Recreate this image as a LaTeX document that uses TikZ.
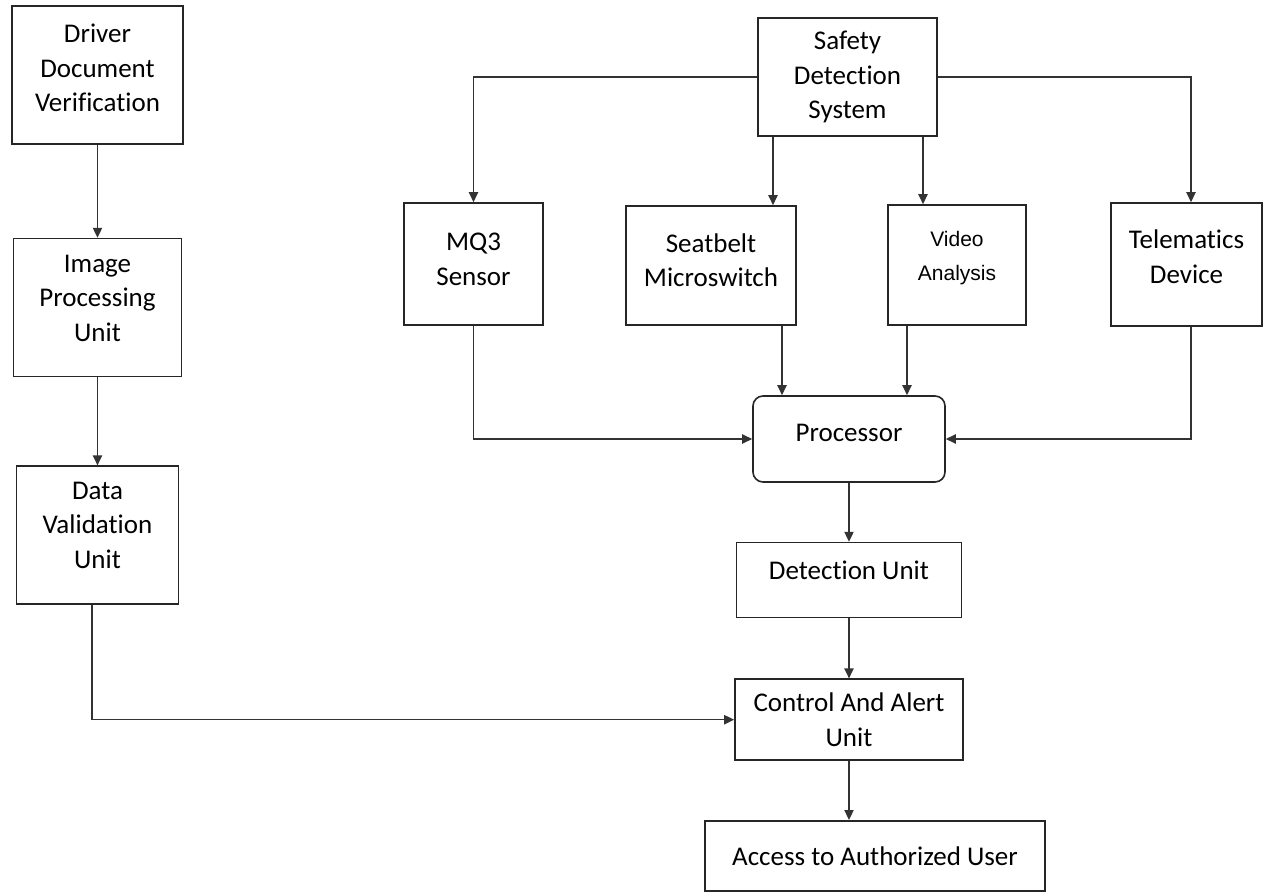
\documentclass[tikz,border=0pt]{standalone}
\usepackage{fontspec}
\setmainfont{Carlito}[Ligatures=NoCommon]
\newfontfamily\arialfont{Liberation Sans}
\usetikzlibrary{positioning}
\usetikzlibrary{graphs}
\usetikzlibrary{arrows.meta}
% empty last line, lifts the text inside a tall box
\newcommand{\lowpad}[1][9]{\\[-#1pt]\mbox{}}

\begin{document}
\begin{tikzpicture}[x=0.5pt,y=-0.5pt,
      font=\fontsize{13.5}{17.25}\selectfont,
      >={Triangle[length=5pt,width=4.6pt]},
      block/.style={rectangle,draw=black!85,line width=0.8pt,align=center,inner sep=1pt},
      flow/.style={draw=black!80,line width=0.75pt,->}]
\useasboundingbox (0,0) rectangle (1264,893);
% left column
\node (ddv) [block,minimum width=85.5pt,minimum height=69pt] at (97.5,75) {Driver\\Document\\Verification\lowpad[10.25]};
\node (ipu) [block,minimum width=84pt,minimum height=69pt,below=46.5pt of ddv] {Image\\Processing\\Unit\lowpad[7.75]};
\node (dvu) [block,minimum width=81pt,minimum height=69pt,below=44pt of ipu] {Data\\Validation\\Unit\lowpad[7.25]};
% detection system and sensors
\node (sds) [block,minimum width=89.5pt,minimum height=59pt] at (847.5,77) {Safety\\Detection\\System};
\node (mq3) [block,minimum width=69.5pt,minimum height=61pt] at (473.5,264) {MQ3\\Sensor\lowpad[12.25]};
\node (seat) [block,minimum width=85pt,minimum height=59.5pt] at (711,265.5) {Seatbelt\\Microswitch\lowpad[11.75]};
\node (video) [block,minimum width=69pt,minimum height=60pt,
      font=\arialfont\fontsize{10.5}{17}\selectfont] at (957,265) {Video\\Analysis\lowpad[7.8]};
\node (tele) [block,minimum width=75.5pt,minimum height=61.5pt] at (1186.5,264.5) {Telematics\\Device\lowpad[9.25]};
% processing chain
\node (proc) [block,rounded corners=5pt,minimum width=96pt,minimum height=43pt] at (849,439) {Processor\lowpad[11.25]};
\node (det) [block,minimum width=112.5pt,minimum height=37.5pt,below=29.5pt of proc] {Detection Unit\lowpad[7.25]};
\node (cau) [block,minimum width=114pt,minimum height=40.5pt,below=30pt of det] {Control And Alert\\Unit};
\node (acc) [block,minimum width=170pt,minimum height=35pt,below=29.5pt of cau,xshift=13pt] {Access to Authorized User};

\graph [use existing nodes, edges={flow}] {
  ddv -> ipu -> dvu;
  proc -> det -> cau;
};
\draw[flow] (dvu.south -| 92,0) |- (cau.west);
\draw[flow] (sds.west) -| (mq3.north);
\draw[flow] (sds.east) -| (tele.north -| 1191,0);
\draw[flow] (sds.south -| 773,0) -- (seat.north -| 773,0);
\draw[flow] (sds.south -| 923,0) -- (video.north -| 923,0);
\draw[flow] (mq3.south) |- (proc.west);
\draw[flow] (seat.south -| 782,0) -- (proc.north -| 782,0);
\draw[flow] (video.south -| 907,0) -- (proc.north -| 907,0);
\draw[flow] (tele.south -| 1191,0) |- (proc.east);
\draw[flow] (cau.south) -- (cau.south |- acc.north);
\end{tikzpicture}
\end{document}
